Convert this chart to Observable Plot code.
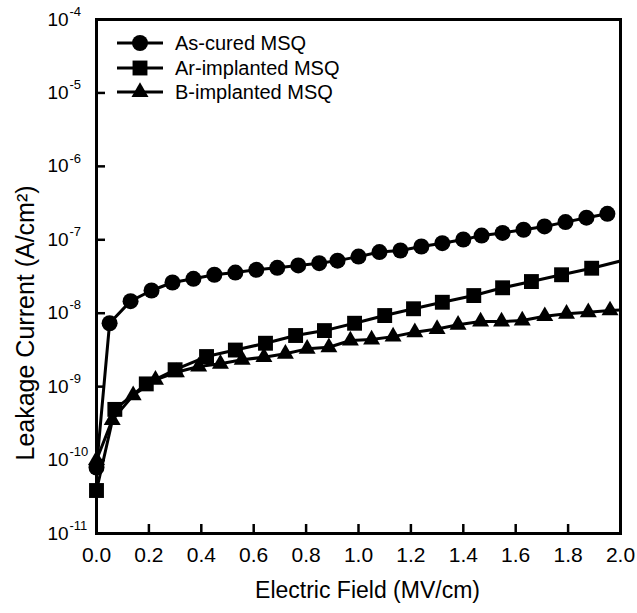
<!DOCTYPE html>
<html><head><meta charset="utf-8">
<script src="https://cdn.jsdelivr.net/npm/d3@7"></script>
<script src="https://cdn.jsdelivr.net/npm/@observablehq/plot@0.6"></script>
<style>
body{margin:0;background:#fff;}
#wrap{position:relative;width:637px;height:613px;}
#legend{position:absolute;left:0;top:0;pointer-events:none;}
</style></head><body><div id="wrap"></div>
<script>
// ---- data ----
const asCuredE = [0, 0.05, 0.13, 0.21, 0.29, 0.37, 0.45, 0.53, 0.61, 0.69, 0.77, 0.85, 0.92, 1.00, 1.08, 1.16, 1.24, 1.32, 1.40, 1.47, 1.55, 1.63, 1.71, 1.79, 1.87, 1.95];
const asCuredI = [7.9e-11, 7.3e-9, 1.46e-8, 2.04e-8, 2.62e-8, 2.94e-8, 3.34e-8, 3.58e-8, 3.9e-8, 4.15e-8, 4.47e-8, 4.8e-8, 5.2e-8, 5.9e-8, 6.8e-8, 7.15e-8, 8.1e-8, 9.0e-8, 1.01e-7, 1.14e-7, 1.24e-7, 1.37e-7, 1.52e-7, 1.74e-7, 2.0e-7, 2.26e-7];
const arE = [0, 0.07, 0.19, 0.30, 0.42, 0.53, 0.645, 0.76, 0.87, 0.985, 1.10, 1.21, 1.32, 1.44, 1.55, 1.66, 1.775, 1.89, 2.005];
const arI = [3.85e-11, 4.9e-10, 1.09e-9, 1.70e-9, 2.57e-9, 3.15e-9, 3.9e-9, 4.97e-9, 5.8e-9, 7.3e-9, 9.3e-9, 1.15e-8, 1.41e-8, 1.74e-8, 2.22e-8, 2.7e-8, 3.34e-8, 4.1e-8, 5.2e-8];
const bE = [0, 0.06, 0.14, 0.225, 0.305, 0.39, 0.473, 0.556, 0.639, 0.721, 0.804, 0.887, 0.969, 1.05, 1.132, 1.215, 1.30, 1.38, 1.466, 1.546, 1.625, 1.711, 1.794, 1.877, 1.96, 2.043];
const bI = [1.0e-10, 3.5e-10, 7.6e-10, 1.24e-9, 1.57e-9, 1.88e-9, 2.05e-9, 2.32e-9, 2.52e-9, 2.8e-9, 3.27e-9, 3.44e-9, 4.25e-9, 4.38e-9, 4.8e-9, 5.5e-9, 6.1e-9, 6.95e-9, 7.7e-9, 7.7e-9, 7.95e-9, 9.1e-9, 9.8e-9, 1.03e-8, 1.09e-8, 1.12e-8];

const seriesNames = ["As-cured MSQ", "Ar-implanted MSQ", "B-implanted MSQ"];
const seriesSymbols = ["circle", "square", "triangle"];
const seriesR = [8, 8.4, 6.3];

const xTicks = [0.0, 0.2, 0.4, 0.6, 0.8, 1.0, 1.2, 1.4, 1.6, 1.8, 2.0];
const yTicks = [1e-11, 1e-10, 1e-9, 1e-8, 1e-7, 1e-6, 1e-5, 1e-4];
const yExponents = ["-11", "-10", "-9", "-8", "-7", "-6", "-5", "-4"];
const xTitle = "Electric Field (MV/cm)";
const yTitle = "Leakage Current (A/cm²)";

// ---- build table ----
const seriesE = [asCuredE, arE, bE];
const seriesI = [asCuredI, arI, bI];
const rows = seriesNames.flatMap((name, s) =>
  seriesE[s].map((e, i) => ({name, s, E: e, I: seriesI[s][i]})));
const yLabels = yTicks.map((v, i) => ({v, exp: yExponents[i]}));

const W = 637, H = 613, mL = 96, mR = 17, mT = 19, mB = 80;
const innerW = W - mL - mR, innerH = H - mT - mB;
const font = "'Liberation Sans', Arial, Helvetica, sans-serif";

const marks = [];
// inward ticks
marks.push(Plot.ruleX(xTicks, {x: d => d, insetTop: innerH - 9, stroke: "black", strokeWidth: 2.5}));
marks.push(Plot.ruleY(yTicks, {y: d => d, insetRight: innerW - 9, stroke: "black", strokeWidth: 2.5}));
// lines and markers
seriesNames.forEach((name, s) => {
  const d = rows.filter(r => r.s === s);
  marks.push(Plot.line(d, {x: "E", y: "I", stroke: "black", strokeWidth: 3, clip: true}));
});
seriesNames.forEach((name, s) => {
  const d = rows.filter(r => r.s === s && r.E <= 2);
  marks.push(Plot.dot(d, {x: "E", y: "I", symbol: seriesSymbols[s], r: seriesR[s], fill: "black", stroke: "none"}));
});
marks.push(Plot.frame({stroke: "black", strokeWidth: 3}));
// x tick labels
marks.push(Plot.axisX({ticks: xTicks, tickSize: 0, tickPadding: 14, tickFormat: d3.format(".1f"), fontSize: 21, label: null}));
// y tick labels 10^n
marks.push(Plot.text(yLabels, {y: "v", text: () => "10", frameAnchor: "left", dx: -49, textAnchor: "start", fontSize: 19}));
marks.push(Plot.text(yLabels, {y: "v", text: "exp", frameAnchor: "left", dx: -27, dy: -8, textAnchor: "start", fontSize: 13}));
// titles
marks.push(Plot.text([xTitle], {text: d => d, frameAnchor: "bottom", dx: 9, dy: 64, fontSize: 23, textAnchor: "middle"}));
marks.push(Plot.text([yTitle], {text: d => d, frameAnchor: "left", rotate: -90, dx: -71, dy: 184, fontSize: 25, textAnchor: "start"}));

const chart = Plot.plot({
  width: W, height: H,
  marginLeft: mL, marginRight: mR, marginTop: mT, marginBottom: mB,
  x: {domain: [0, 2]},
  y: {type: "log", domain: [1e-11, 1e-4], axis: null},
  style: {fontFamily: font, color: "black", background: "white"},
  marks
});
const wrap = document.getElementById("wrap");
wrap.appendChild(chart);

// ---- legend (inside plot, top-left) ----
const lg = d3.select(wrap).append("svg").attr("id", "legend")
  .attr("width", W).attr("height", 120)
  .style("font-family", font);
const rowY = [43, 68, 92];
seriesNames.forEach((name, s) => {
  const g = lg.append("g").attr("transform", `translate(0,${rowY[s]})`);
  g.append("line").attr("x1", 117).attr("x2", 163).attr("y1", 0).attr("y2", 0)
    .attr("stroke", "black").attr("stroke-width", 3);
  const sym = {circle: d3.symbolCircle, square: d3.symbolSquare, triangle: d3.symbolTriangle}[seriesSymbols[s]];
  g.append("path").attr("d", d3.symbol(sym, Math.PI * seriesR[s] * seriesR[s])())
    .attr("transform", "translate(140,0)").attr("fill", "black");
  g.append("text").attr("x", 175).attr("y", 0).attr("dy", "0.35em")
    .attr("font-size", 20).attr("fill", "black").text(name);
});
</script></body></html>
